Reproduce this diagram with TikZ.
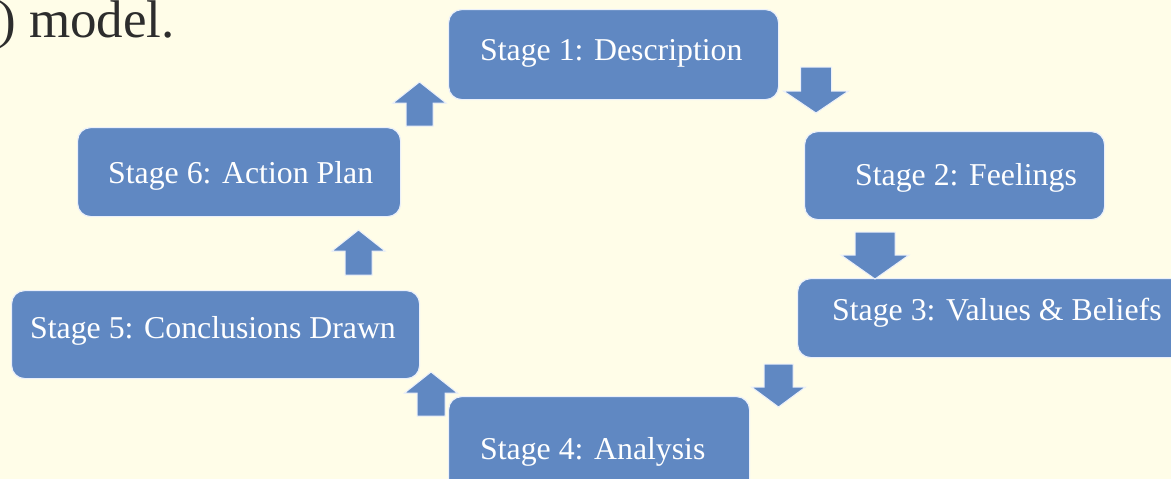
\documentclass[tikz,border=0pt]{standalone}
\usepackage{fontspec}
\setmainfont{Liberation Serif}
\definecolor{bgc}{RGB}{255,253,232}
\definecolor{boxc}{RGB}{96,136,194}
\definecolor{edgec}{RGB}{235,240,250}
\definecolor{txtc}{RGB}{45,45,45}
\newcommand\blockarr[6]{%
  \path[blockarrow] ({#1-#2},#4) -- ({#1-#2},#5) -- ({#1-#3},#5) -- (#1,#6)
     -- ({#1+#3},#5) -- ({#1+#2},#5) -- ({#1+#2},#4) -- cycle;}
\begin{document}
\begin{tikzpicture}[x=1pt,y=-1pt,
  stagebox/.style={draw=edgec,line width=1.2pt,fill=boxc,rounded corners=13pt,
    anchor=north west,inner sep=0pt},
  stagetext/.style={anchor=base west,inner sep=0pt,text=white,
    font=\fontsize{31.8}{38}\selectfont},
  blockarrow/.style={fill=boxc,draw=edgec,line width=1pt}]
\useasboundingbox (0,0) rectangle (1171,479);
\clip (0,0) rectangle (1171,479);
\fill[bgc] (0,0) rectangle (1171,479);
\node[anchor=base west,inner sep=0pt,text=txtc,font=\fontsize{53}{60}\selectfont] (title) at (-2,37) {) model.};
% boxes
\node[stagebox,minimum width=330pt,minimum height=90pt] (s1) at (448,9) {};
\node[stagebox,minimum width=300pt,minimum height=88pt] (s2) at (804,131) {};
\node[stagebox,minimum width=400pt,minimum height=79pt] (s3) at (797,278) {};
\node[stagebox,minimum width=301pt,minimum height=100pt] (s4) at (448,396) {};
\node[stagebox,minimum width=408pt,minimum height=88pt] (s5) at (11,290) {};
\node[stagebox,minimum width=323pt,minimum height=89pt] (s6) at (77,127) {};
% labels
\node[stagetext] (t1) at (480,60) {Stage 1: Description};
\node[stagetext] (t2) at (855,185) {Stage 2: Feelings};
\node[stagetext] (t3) at (832,320) {Stage 3: Values \& Beliefs};
\node[stagetext] (t4) at (480,459) {Stage 4: Analysis};
\node[stagetext] (t5) at (30,338) {Stage 5: Conclusions Drawn};
\node[stagetext] (t6) at (108,183) {Stage 6: Action Plan};
% block arrows: cx, shaft half, head half, start y, head base y, tip y
\blockarr{816}{15.5}{32.5}{67}{91}{113}
\blockarr{875}{20}{34}{232}{255}{279}
\blockarr{778.5}{14.5}{27}{364}{387}{407}
\blockarr{431}{14}{26.5}{416}{393}{372}
\blockarr{358.5}{13.5}{26.5}{275}{251}{230}
\blockarr{419.5}{13.5}{26.5}{126}{103}{82}
\end{tikzpicture}
\end{document}
